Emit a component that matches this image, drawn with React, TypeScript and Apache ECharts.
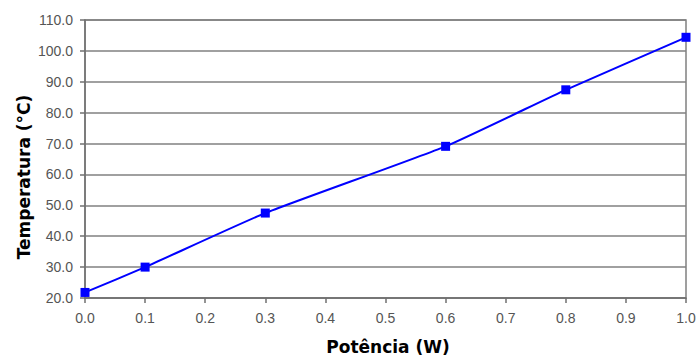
import React, { useEffect, useRef } from "react";
import * as echarts from "echarts";

const xValues = [0.0, 0.1, 0.3, 0.6, 0.8, 1.0];
const yValues = [21.8, 30.0, 47.5, 69.1, 87.4, 104.4];
const xTitle = "Potência (W)";
const yTitle = "Temperatura (°C)";

export default function App() {
  const ref = useRef<HTMLDivElement>(null);
  useEffect(() => {
    const chart = echarts.init(ref.current!, null, { renderer: "svg" });
    chart.setOption({
      animation: false,
      backgroundColor: "#ffffff",
      grid: { left: 85, right: 12, top: 20, bottom: 60, containLabel: false, outerBoundsMode: "none" },
      xAxis: {
        type: "value",
        min: 0,
        max: 1,
        interval: 0.1,
        axisLine: { show: true, lineStyle: { color: "#707070", width: 1.5 } },
        axisTick: { show: true, inside: false, length: 5, lineStyle: { color: "#707070", width: 1.5 } },
        axisLabel: {
          formatter: (v: number) => v.toFixed(1),
          fontFamily: "Liberation Sans",
          fontSize: 14,
          color: "#555555",
          margin: 13,
        },
        splitLine: { show: false },
      },
      yAxis: {
        type: "value",
        min: 20,
        max: 110,
        interval: 10,
        axisLine: { show: true, lineStyle: { color: "#707070", width: 1.5 } },
        axisTick: { show: true, length: 5, lineStyle: { color: "#707070", width: 1.5 } },
        axisLabel: {
          formatter: (v: number) => v.toFixed(1),
          fontFamily: "Liberation Sans",
          fontSize: 14,
          color: "#555555",
          margin: 12,
        },
        splitLine: { show: true, lineStyle: { color: "#808080", width: 1.5 } },
      },
      graphic: [
        {
          type: "rect",
          shape: { x: 85, y: 20, width: 601, height: 278 },
          style: { fill: "none", stroke: "#808080", lineWidth: 1.5 },
          silent: true,
          z: 0,
        },
        {
          type: "text",
          x: 388,
          y: 347,
          style: {
            text: xTitle,
            fontFamily: "DejaVu Sans",
            fontWeight: "bold",
            fontSize: 17,
            fill: "#000",
            align: "center",
            verticalAlign: "middle",
          },
        },
        {
          type: "text",
          x: 24,
          y: 177,
          rotation: Math.PI / 2,
          style: {
            text: yTitle,
            fontFamily: "DejaVu Sans",
            fontWeight: "bold",
            fontSize: 17,
            fill: "#000",
            align: "center",
            verticalAlign: "middle",
          },
        },
      ],
      series: [
        {
          type: "line",
          data: xValues.map((x, i) => [x, yValues[i]]),
          smooth: 0.15,
          symbol: "rect",
          symbolSize: 9,
          lineStyle: { color: "#0000ff", width: 2 },
          itemStyle: { color: "#0000ff" },
          z: 5,
        },
      ],
    });
    return () => chart.dispose();
  }, []);
  return (
    <div
      ref={ref}
      style={{ position: "fixed", left: 0, top: 0, width: 698, height: 358, overflow: "hidden" }}
    />
  );
}
